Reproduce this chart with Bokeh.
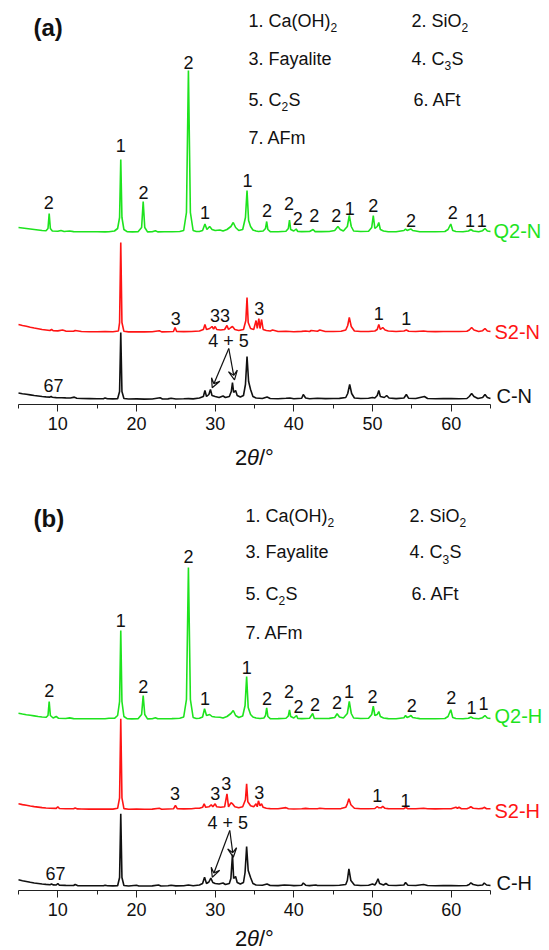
from bokeh.plotting import figure
from bokeh.models import Range1d, Label, Arrow, VeeHead, FixedTicker
from bokeh.layouts import column
from bokeh.embed import file_html
from bokeh.resources import INLINE

# ---------------- data (2theta in degrees, intensity in a.u. above each trace's baseline) -------------
tt_cn = [5.0,5.5,6.0,6.5,7.0,7.5,8.0,8.5,9.0,9.15,9.3,9.8,10.5,11.0,11.6,12.1,12.4,13.0,14.0,15.0,15.8,16.0,16.3,17.0,17.6,17.85,18.0,18.15,18.4,19.0,20.0,21.0,22.0,23.0,23.3,24.0,24.4,25.0,26.0,26.6,27.2,28.0,28.5,28.7,28.9,29.2,29.4,29.6,30.0,30.5,31.0,31.3,31.8,32.05,32.2,32.35,32.6,32.8,33.2,33.6,33.85,34.05,34.25,34.5,34.8,35.2,36.0,36.6,37.0,38.0,39.0,39.5,40.0,41.0,41.2,41.5,42.0,42.5,43.0,44.0,45.0,45.8,46.6,46.85,47.1,47.35,47.7,48.5,49.5,50.0,50.3,50.6,50.8,51.0,51.5,51.8,52.1,53.0,54.0,54.3,54.6,55.5,56.6,57.0,58.0,59.0,60.0,61.0,62.0,62.3,62.6,62.9,63.4,64.0,64.3,64.6,65.0]
in_cn = [6.5,5.8,5.2,4.6,4.0,3.5,3.0,2.6,2.4,3.2,2.2,1.9,1.8,1.6,1.5,2.4,1.2,1.0,0.9,0.8,0.8,1.6,0.7,0.6,0.8,8,67,8,1.0,0.5,0.6,0.4,0.5,1.8,0.5,0.6,1.2,0.5,0.7,0.9,0.6,1.5,3,9,3,5,10,4,3,2,3.5,2,3,8,17,7,9,4,2.5,4,15,43,18,10,3,1.5,1,2.5,1,0.8,1.2,1.5,0.8,1.2,5,1.5,0.8,1.0,1.2,0.9,1.0,1.1,2,6,15,6,1.5,1,1.2,2,1.5,4,9,3,2,4,1.5,0.9,1.5,5,1.2,1,3,1,0.8,0.9,1.0,0.8,1,3,6,3,1,2,5,2,1]

tt_sn = [5.0,5.5,6.0,6.5,7.0,7.5,8.0,8.5,9.0,9.2,9.4,10.0,10.6,11.0,12.0,12.2,13.0,14.0,15.0,16.0,17.0,17.7,17.85,18.0,18.15,18.4,19.0,20.0,21.0,22.0,22.9,23.2,24.0,24.7,24.9,25.1,26.0,27.0,28.0,28.5,28.7,28.9,29.3,29.6,29.8,30.0,30.2,30.7,31.2,31.5,31.7,32.0,32.2,32.5,33.0,33.6,33.9,34.05,34.2,34.5,34.9,35.2,35.35,35.55,35.7,35.9,36.1,36.5,37.0,37.3,38.0,39.0,40.0,41.0,41.5,42.0,42.2,43.0,43.3,44.0,45.0,46.0,46.6,46.85,47.05,47.3,47.7,48.5,49.5,50.3,50.6,50.8,51.0,51.3,51.6,52.0,53.0,54.0,54.3,54.6,55.5,56.5,57.0,58.0,59.0,60.0,61.0,62.0,62.3,62.6,62.9,63.5,64.0,64.3,64.6,65.0]
in_sn = [8.0,7.0,6.2,5.3,4.5,3.8,3.0,2.5,2.0,3.0,1.8,1.6,2.5,1.4,1.2,2,1.0,0.8,0.7,0.9,0.8,1.5,10,90,10,1.2,0.6,0.8,0.6,0.7,1.8,0.6,0.8,1,5,1,0.9,1.0,1.5,3,8,3,4,6,3.5,6,3,2.5,3,7,3,5,6,3,2,3,12,35,10,4,3,12,4,14,4,13,3,2,1.5,2.5,1,1.2,0.8,1.1,1.5,1,2,1.2,2.5,1,1,1.2,2.5,7,15,6,1.5,1,1,1.5,3,8,3,5,2.5,1.5,1,1.5,2.5,1.2,1,1.5,1,0.9,1,1,1,1.2,2.5,5,2.5,1,1.8,4,1.5,1]

tt_qn = [5.0,5.5,6.0,6.5,7.0,7.5,8.0,8.5,8.75,8.9,9.05,9.3,10.0,10.4,10.8,11.5,12.0,13.0,14.0,15.0,16.0,16.5,17.2,17.6,17.85,18.0,18.15,18.4,18.8,19.5,20.2,20.65,20.85,21.05,21.4,22.0,22.4,22.7,23.5,24.5,25.5,26.0,26.35,26.6,26.85,27.2,27.6,28.0,28.4,28.7,28.95,29.3,29.6,30.0,30.6,31.0,31.5,32.0,32.3,32.6,33.0,33.5,33.85,34.05,34.25,34.5,34.8,35.2,35.5,36.1,36.4,36.55,36.7,37.0,38.0,39.0,39.3,39.45,39.6,40.0,40.3,40.5,41.0,42.0,42.45,42.7,43.5,44.5,45.2,45.6,45.9,46.3,46.8,47.05,47.3,47.6,48.5,49.5,49.9,50.1,50.3,50.6,50.8,51.0,51.4,52.0,53.0,54.0,54.2,54.4,54.7,54.9,55.1,55.5,56.0,57.0,58.0,59.2,59.6,59.95,60.2,60.6,61.5,62.2,62.5,62.8,63.5,64.0,64.3,64.6,65.0]
in_qn = [5,4.5,4,3.5,3,2.5,2,1.8,4,19,4,1.5,1.2,2,1.0,1.5,0.9,0.8,0.7,0.7,0.6,0.8,1.5,4,15,73,15,3,0.8,0.6,0.8,5,31,5,0.6,0.7,1.8,0.6,0.8,0.7,1,2,20,162,20,2,1,1,2,8.5,3,6,3,2,2.5,1.5,3,6,10,5,2,3,15,42,12,6,2.5,1.5,1,1.5,4,11,3,0.8,0.8,1.2,4,12.5,3,1.5,3.5,1,0.9,1,3,0.9,0.9,1,2,6,3,1.5,6,17,6,1.5,1,1.2,5,17,4,6,10,3,1.5,0.8,0.8,2,3.5,2,3,3.5,2,1.5,0.8,0.8,0.8,1,3,8.5,2,1,0.8,1.5,3,1.5,0.8,1.8,4,1.5,1]

tt_ch = [5.0,5.5,6.0,6.5,7.0,7.5,8.0,8.5,9.0,9.2,9.4,9.8,10.0,10.2,11.0,12.0,12.2,12.5,13.0,14.0,15.0,15.8,16.0,16.3,17.0,17.6,17.85,18.0,18.15,18.4,19.0,20.0,20.3,21.0,22.0,22.8,23.1,24.0,24.4,25.0,26.0,26.6,27.2,28.0,28.4,28.65,28.9,29.2,29.45,29.7,30.0,30.5,31.0,31.3,31.8,32.0,32.2,32.35,32.6,32.8,33.2,33.6,33.8,34.0,34.2,34.5,34.8,35.2,36.0,36.6,37.0,38.0,38.8,39.5,40.0,41.0,41.2,41.5,42.0,42.8,43.0,44.0,45.0,45.8,46.6,46.8,47.0,47.25,47.7,48.5,49.5,50.0,50.3,50.5,50.7,50.9,51.4,51.7,52.0,53.0,54.0,54.2,54.5,55.5,56.5,57.0,58.0,59.0,60.0,61.0,62.0,62.3,62.5,62.8,63.4,64.0,64.2,64.5,65.0]
in_ch = [6.7,5.8,5.0,4.2,3.5,3.0,2.5,2.1,1.8,2.5,1.6,1.5,3,1.3,1.1,1.0,2,0.9,0.8,0.7,0.7,0.8,1.3,0.7,0.6,0.8,9,72.7,9,1,0.5,1.2,0.5,0.5,0.6,1.5,0.5,0.7,1.2,0.6,0.8,1.5,0.8,1.5,3,9.3,3,4.5,8.3,4,3,2.5,3.5,2,3,8,32,8,10,4,2.5,4,14,40,16,9,3,1.5,1.2,2.5,1,0.9,1.5,1.2,0.9,1.3,3.5,1.3,0.9,1.5,1,1,1,1.2,2,6,17.7,6,1.5,1,1.3,2.5,1.5,4,7.7,3,1.5,3,1.3,1,1.5,4,1.2,1,2,1,0.8,0.9,1,0.8,1,2,3.7,2,1,1.5,3.5,1.5,1]

tt_sh = [5.0,5.5,6.0,6.5,7.0,7.5,8.0,8.5,9.0,9.8,10.0,10.2,11.0,12.0,12.2,12.5,13.0,14.0,15.0,16.0,17.0,17.6,17.85,18.0,18.15,18.4,19.0,20.0,21.0,22.0,22.9,23.2,24.0,24.7,24.95,25.2,26.0,27.0,27.5,28.0,28.4,28.6,28.8,29.2,29.5,29.7,30.0,30.2,30.7,31.2,31.5,31.7,32.0,32.2,32.5,33.0,33.5,33.85,34.0,34.15,34.5,34.9,35.2,35.35,35.5,35.7,35.9,36.1,36.5,37.0,38.0,39.0,39.3,40.0,41.0,41.5,42.0,43.0,43.3,44.0,45.0,46.0,46.6,46.8,47.0,47.25,47.7,48.5,49.5,50.3,50.6,50.8,51.1,51.3,51.6,52.0,53.0,54.0,54.2,54.5,55.5,56.5,57.0,58.0,59.0,60.0,60.6,60.8,61.0,61.3,62.0,62.3,62.5,62.8,63.5,64.0,64.2,64.5,65.0]
in_sh = [6,5.2,4.5,3.8,3.2,2.7,2.2,1.8,1.5,1.4,3,1.3,1.1,1.0,1.8,0.9,0.8,0.7,0.7,0.8,0.7,1.5,12,91,12,1.2,0.6,0.8,0.6,0.7,1.5,0.6,0.8,1,4.3,1,0.9,1,1.5,1.5,2.5,6,2.5,3,5,3,6,3,2.5,3,16,3,7,6,3,2,3,10,26,8,4,3,6,3,9,4,6,2.5,1.5,1.2,1,2.2,1,0.8,1,1.4,1,1,1.6,1,1,1.2,2.5,6,11,5,1.5,1,1,1.3,3.3,2,2,3.5,1.5,1.2,1,1.2,2.5,1,1,1.5,1,0.9,1,1,2.5,1.5,2.5,1,1,2,3,1.5,1,1.4,2.5,1,1]

tt_qh = [5.0,5.5,6.0,6.5,7.0,7.5,8.0,8.5,8.75,8.9,9.05,9.4,9.8,10.1,11.0,11.5,12.0,13.0,14.0,15.0,16.0,16.5,17.2,17.6,17.85,18.0,18.15,18.4,18.8,19.4,20.2,20.65,20.85,21.05,21.4,22.0,22.4,22.7,23.5,24.5,25.5,26.0,26.35,26.6,26.85,27.2,27.6,28.0,28.4,28.65,28.9,29.3,29.6,30.0,30.6,31.0,31.5,32.0,32.3,32.6,33.0,33.5,33.8,34.0,34.2,34.5,34.8,35.2,35.7,36.2,36.4,36.55,36.7,37.0,38.0,39.0,39.3,39.45,39.6,40.0,40.35,40.5,41.0,42.0,42.4,42.6,43.5,44.5,45.2,45.5,45.8,46.3,46.8,47.05,47.3,47.6,48.5,49.5,49.9,50.1,50.3,50.6,50.8,51.0,51.4,52.0,53.0,54.0,54.2,54.4,54.7,54.9,55.1,55.5,56.0,57.0,58.0,59.2,59.6,59.95,60.2,60.6,61.5,62.2,62.5,62.8,63.5,64.0,64.3,64.6,65.0]
in_qh = [6.3,5.5,4.8,4.2,3.6,3,2.5,2.2,4,18,4,1.5,3,1.2,1.0,1.6,0.9,0.8,0.7,0.7,0.8,1.2,1.2,4,18,89,18,3,0.8,0.6,0.8,5,24,5,0.6,0.8,1.8,0.7,0.8,0.9,1.2,2.5,20,152,20,2,1,1.2,2.5,10.7,4,5,3,2.5,2.2,1.5,3,6,9,4,2,3.5,14,43,12,5,2.5,1.5,1,1.5,4,11.7,3,0.8,0.9,1.2,3.5,9.7,3,1.5,4,1,0.9,1.2,6,1,1,1.1,2,5.7,2.5,1.5,6,18,6,1.5,1,1.3,5,13.3,4,5,8,3,1.5,0.9,0.8,1.8,4,2,3,4,2,1.5,0.9,0.8,0.8,1,3,9.7,2,1,0.8,1.2,2.5,1.2,0.8,1.8,4,1.5,1]

# peak annotations: (2theta, label)
peaks_qn = [(8.85,"2"),(18.0,"1"),(20.9,"2"),(26.6,"2"),(28.7,"1"),(34.1,"1"),(36.6,"2"),(39.4,"2"),(40.5,"2"),(42.6,"2"),(45.4,"2"),(47.1,"1"),(50.1,"2"),(54.9,"2"),(60.2,"2"),(62.4,"1"),(63.9,"1")]
peaks_sn = [(25.0,"3"),(30.6,"33"),(35.6,"3"),(50.8,"1"),(54.3,"1")]
peaks_cn = [(9.45,"67"),(31.7,"4 + 5")]
peaks_qh = [(8.9,"2"),(18.0,"1"),(20.85,"2"),(26.6,"2"),(28.7,"1"),(34.0,"1"),(36.6,"2"),(39.4,"2"),(40.6,"2"),(42.7,"2"),(45.5,"2"),(47.0,"1"),(50.0,"2"),(55.0,"2"),(60.0,"2"),(62.6,"1"),(64.1,"1")]
peaks_sh = [(24.9,"3"),(30.0,"3"),(31.4,"3"),(35.6,"3"),(50.6,"1"),(54.2,"1")]
peaks_ch = [(9.7,"67"),(31.6,"4 + 5")]

x_ticks = [10, 20, 30, 40, 50, 60]
x_minor = [5, 15, 25, 35, 45, 55, 65]

# ---------------- layout constants (pixels) ----------------
FONT = "Liberation Sans"
GREEN = "#1ee31e"
RED = "#ff1414"
BLACK = "#111111"
W = 549
FL, FR = 18, 490          # pixel columns of 2theta = 5 and 65
X0, X1 = 5, 65


def xd(px):
    return X0 + (px - FL) * (X1 - X0) / (FR - FL)


def lab_on(p, x, y, text, size="18px", color="#111111", align="center", style="normal"):
    p.add_layout(Label(x=x, y=y, text=text, text_font=FONT, text_font_size=size,
                       text_color=color, text_align=align, text_baseline="middle",
                       text_font_style=style))


def panel(frame_h, bottom, canvas_off, letter, letter_py, legend_rows,
          traces, peak_sets, arrow_px):
    axis_py = canvas_off + frame_h

    def yd(py):
        return axis_py - py

    p = figure(width=W, height=frame_h + bottom, x_range=Range1d(xd(0), xd(W)),
               y_range=Range1d(0, frame_h),
               min_border_left=0, min_border_right=0, min_border_top=0,
               min_border_bottom=bottom, toolbar_location=None,
               output_backend="svg", y_axis_location=None)
    p.grid.visible = False
    p.outline_line_color = None
    p.background_fill_color = "white"
    p.border_fill_color = "white"
    ax = p.xaxis[0]
    ax.bounds = (X0, X1)
    ax.ticker = FixedTicker(ticks=x_ticks, minor_ticks=x_minor)
    ax.major_tick_in = 0
    ax.major_tick_out = 7
    ax.minor_tick_in = 0
    ax.minor_tick_out = 4
    ax.axis_line_color = "#222222"
    ax.major_tick_line_color = "#222222"
    ax.minor_tick_line_color = "#222222"
    ax.major_label_text_font = FONT
    ax.major_label_text_font_size = "18px"
    ax.major_label_text_color = "#111111"
    ax.major_label_standoff = 5

    def lab(x, y, text, **kw):
        lab_on(p, x, y, text, **kw)

    for (tt, ii, base_py, color, name, name_px, name_py) in traces:
        off = yd(base_py)
        p.line(tt, [off + v for v in ii], line_color=color, line_width=1.6)
        lab(xd(name_px), yd(name_py), name, size="20px", color=color, align="left")

    for plist, pys in peak_sets:
        for (t, s), py in zip(plist, pys):
            lab(t, yd(py), s)

    (sx, sy), ends = arrow_px
    for ex, ey in ends:
        p.add_layout(Arrow(x_start=xd(sx), y_start=yd(sy), x_end=xd(ex), y_end=yd(ey),
                           line_color="#111111", line_width=1.2,
                           end=VeeHead(size=9, line_color="#111111", line_width=1.2,
                                       fill_color=None)))

    lab(xd(33), yd(letter_py), letter, size="24px", align="left", style="bold")

    for row_py, pieces in legend_rows:
        for (px, txt, sub) in pieces:
            if sub:
                lab(xd(px), yd(row_py + 7), txt, size="12px", align="left")
            else:
                lab(xd(px), yd(row_py), txt, size="18px", align="left")
    return p


def title_fig(h, center_from_top):
    t = figure(width=W, height=h, x_range=Range1d(0, W), y_range=Range1d(0, h),
               min_border=0, toolbar_location=None, output_backend="svg",
               x_axis_location=None, y_axis_location=None)
    t.grid.visible = False
    t.outline_line_color = None
    t.background_fill_color = "white"
    t.border_fill_color = "white"
    y = h - center_from_top
    lab_on(t, 234.5, y, "2", size="22px", align="left")
    lab_on(t, 246.5, y, "θ", size="22px", align="left", style="italic")
    lab_on(t, 258.5, y, "/°", size="22px", align="left")
    return t


def legend(x1, x2, rows_py):
    r1, r2, r3, r4 = rows_py
    return [
        (r1, [(x1, "1. Ca(OH)", False), (x1 + 82, "2", True),
              (x2, "2. SiO", False), (x2 + 50, "2", True)]),
        (r2, [(x1, "3. Fayalite", False),
              (x2, "4. C", False), (x2 + 33, "3", True), (x2 + 40, "S", False)]),
        (r3, [(x1, "5. C", False), (x1 + 33, "2", True), (x1 + 40, "S", False),
              (x2 + 2, "6. AFt", False)]),
        (r4, [(x1, "7. AFm", False)]),
    ]


pa = panel(
    frame_h=404, bottom=36, canvas_off=0, letter="(a)", letter_py=27,
    legend_rows=legend(248, 411, (20, 58.3, 99, 137.7)),
    traces=[(tt_qn, in_qn, 232, GREEN, "Q2-N", 493, 230),
            (tt_sn, in_sn, 332, RED, "S2-N", 494, 331.7),
            (tt_cn, in_cn, 399, BLACK, "C-N", 496, 395.5)],
    peak_sets=[(peaks_qn, [201.7,145,191.7,61.7,211.7,180,210,203,218,215,215,208.3,205,220,212,220,220]),
               (peaks_sn, [318.3,315,308.3,313.3,318.3]),
               (peaks_cn, [385,340])],
    arrow_px=((228.3, 348), [(211.7, 387.3), (234, 379.3)]))
ta = title_fig(35, 17)

pb = panel(
    frame_h=415, bottom=36, canvas_off=475, letter="(b)", letter_py=518,
    legend_rows=legend(245, 409, (515, 551.7, 593.3, 632.3)),
    traces=[(tt_qh, in_qh, 719, GREEN, "Q2-H", 494, 715),
            (tt_sh, in_sh, 809.3, RED, "S2-H", 494, 810),
            (tt_ch, in_ch, 886, BLACK, "C-H", 496, 882.5)],
    peak_sets=[(peaks_qh, [690,620,686,556,698.3,666.7,698.3,690.7,706,704,701.7,690.7,696,705,697.3,707.3,702.7]),
               (peaks_sh, [793.3,793.3,783.3,791.7,795,800]),
               (peaks_ch, [873.3,822.7])],
    arrow_px=((229.3, 830), [(211.8, 876.7), (232.8, 856.7)]))
tb = title_fig(24, 12)

layout = column(pa, ta, pb, tb, spacing=0)
open("out.html", "w").write(file_html(layout, INLINE))
